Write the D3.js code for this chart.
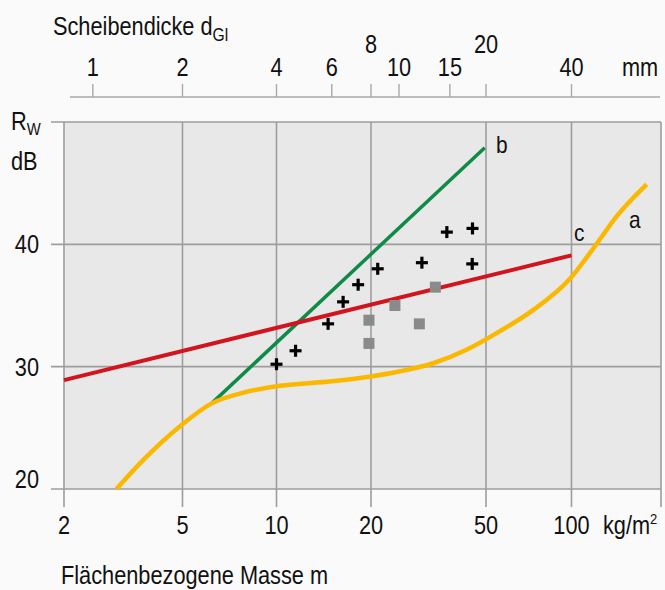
<!DOCTYPE html>
<html>
<head>
<meta charset="utf-8">
<script src="https://cdn.jsdelivr.net/npm/d3@7"></script>
<style>
  html, body { margin: 0; padding: 0; background: #fafafa; }
  svg { display: block; }
  text { font-family: "Liberation Sans", Arial, sans-serif; fill: #111; }
</style>
</head>
<body>
<script>
// ---------- data ----------
const massGrid = [2, 5, 10, 20, 50, 100, 200];          // kg/m² gridlines
const massTickLabels = ["2", "5", "10", "20", "50", "100"];
const thicknessTicks = [1, 2, 4, 6, 8, 10, 15, 20, 40]; // mm
const thicknessRaised = [8, 20];
const glassDensity = 2.5;                               // kg/m² per mm
const rwTicks = [20, 30, 40];
const rwTop = 50;

// curve a
const curveAMass = [3, 3.7, 5, 6.2, 7.9, 10, 15, 20, 25, 33, 43, 56, 73, 98, 122, 142, 179];
const curveARw   = [20, 22.4, 25.3, 27, 27.9, 28.4, 28.8, 29.2, 29.6, 30.3, 31.4, 32.9, 34.6, 37.1, 40.1, 42.3, 44.9];
// line b
const lineBMass = [6.2, 49.5];
const lineBRw   = [27, 47.9];
// line c
const lineCMass = [2, 100];
const lineCRw   = [28.9, 39.1];
// measured points
const crossMass = [10, 11.5, 14.6, 16.3, 18.2, 21.1, 30, 36.6, 44.9, 44.8];
const crossRw   = [30.2, 31.3, 33.5, 35.3, 36.7, 38.0, 38.5, 41.0, 41.3, 38.4];
const squareMass = [19.7, 19.7, 24.2, 29.4, 33.4];
const squareRw   = [33.8, 31.9, 35.0, 33.5, 36.5];

// ---------- layout ----------
const W = 665, H = 590;
const svg = d3.select("body").append("svg").attr("width", W).attr("height", H);

// log scale, piecewise to follow the printed grid
const x = d3.scaleLog()
  .domain(massGrid)
  .range([64, 182.5, 276.5, 371, 486, 571.5, 661]);
const y = d3.scaleLinear().domain([20, 50]).range([489, 122]);

const gridColor = "#9d9d9d";
const FS = 25, SX = 0.87;

// condensed text helper
function ctext(parent, px, py, size, anchor) {
  return parent.append("text")
    .attr("transform", `translate(${px},${py}) scale(${SX},1)`)
    .attr("font-size", size)
    .attr("text-anchor", anchor || "start");
}

// plot background
svg.append("rect")
  .attr("x", x(2)).attr("y", y(rwTop))
  .attr("width", x(200) - x(2)).attr("height", y(20) - y(rwTop))
  .attr("fill", "#e8e8e8");

// horizontal gridlines
svg.append("g").selectAll("line").data(rwTicks.concat([rwTop])).join("line")
  .attr("x1", 51).attr("x2", x(200))
  .attr("y1", d => y(d)).attr("y2", d => y(d))
  .attr("stroke", gridColor).attr("stroke-width", 1.6);

// vertical gridlines
svg.append("g").selectAll("line").data(massGrid).join("line")
  .attr("x1", d => x(d)).attr("x2", d => x(d))
  .attr("y1", y(rwTop)).attr("y2", 507)
  .attr("stroke", gridColor).attr("stroke-width", 1.6);

// bottom tick labels
massGrid.slice(0, 6).forEach((d, i) => {
  ctext(svg, x(d), 534, FS, "middle").text(massTickLabels[i]);
});
const unit = ctext(svg, 603, 534, FS);
unit.append("tspan").text("kg/m");
unit.append("tspan").attr("font-size", 15).attr("dy", -10).text("2");

ctext(svg, 61, 584, FS).text("Flächenbezogene Masse m");

// y tick labels
rwTicks.forEach(d => {
  ctext(svg, 39, d === 20 ? y(d) - 1 : y(d) + 9, FS, "end").text(d);
});
const rw = ctext(svg, 11, y(rwTop) + 8, FS);
rw.append("tspan").text("R");
rw.append("tspan").attr("font-size", 17).attr("dy", 5).text("W");
ctext(svg, 11, 170, FS).text("dB");

// top axis (glass thickness)
const topY = 97;
svg.append("line").attr("x1", 70).attr("x2", 660).attr("y1", topY).attr("y2", topY)
  .attr("stroke", "#a8a8a8").attr("stroke-width", 1.6);
svg.append("g").selectAll("line").data(thicknessTicks).join("line")
  .attr("x1", d => x(d * glassDensity)).attr("x2", d => x(d * glassDensity))
  .attr("y1", 84).attr("y2", topY)
  .attr("stroke", "#a8a8a8").attr("stroke-width", 1.4);
thicknessTicks.forEach(d => {
  ctext(svg, x(d * glassDensity), thicknessRaised.includes(d) ? 53 : 76, FS, "middle").text(d);
});
ctext(svg, 622, 76, FS).text("mm");
const ttl = ctext(svg, 53, 35, FS);
ttl.append("tspan").text("Scheibendicke d");
ttl.append("tspan").attr("font-size", 18).attr("dy", 6).text("Gl");

// ---------- curves ----------
const line = d3.line().x(d => x(d[0])).y(d => y(d[1]));

svg.append("path")
  .datum(d3.zip(lineBMass, lineBRw))
  .attr("d", line).attr("fill", "none")
  .attr("stroke", "#0f8a47").attr("stroke-width", 3.5);

svg.append("path")
  .datum(d3.zip(lineCMass, lineCRw))
  .attr("d", line).attr("fill", "none")
  .attr("stroke", "#d3141f").attr("stroke-width", 4);

svg.append("path")
  .datum(d3.zip(curveAMass, curveARw))
  .attr("d", line.curve(d3.curveMonotoneX)).attr("fill", "none")
  .attr("stroke", "#fbb800").attr("stroke-width", 4.5);

// labels a, b, c
ctext(svg, 629, 228, 24).text("a");
ctext(svg, 496, 153, 24).text("b");
ctext(svg, 574, 241, 24).text("c");

// squares
const sq = 11;
svg.append("g").selectAll("rect").data(d3.zip(squareMass, squareRw)).join("rect")
  .attr("x", d => x(d[0]) - sq / 2).attr("y", d => y(d[1]) - sq / 2)
  .attr("width", sq).attr("height", sq).attr("fill", "#8a8a8a");

// crosses
const cs = 6;
const crosses = svg.append("g").selectAll("g").data(d3.zip(crossMass, crossRw)).join("g")
  .attr("transform", d => `translate(${x(d[0])},${y(d[1])})`);
crosses.append("line").attr("x1", -cs).attr("x2", cs).attr("stroke", "#000").attr("stroke-width", 3.2);
crosses.append("line").attr("y1", -cs).attr("y2", cs).attr("stroke", "#000").attr("stroke-width", 3.2);
</script>
</body>
</html>
